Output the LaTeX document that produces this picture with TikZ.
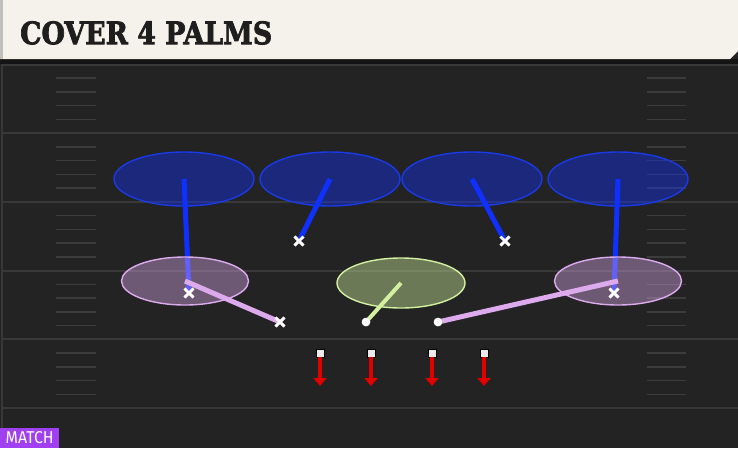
\documentclass[tikz,border=0pt]{standalone}
\usepackage{fontspec}
\usepackage{graphicx}
\usetikzlibrary{arrows.meta,shapes.geometric,shapes.misc}
\newfontfamily\titlefont{DejaVu Serif}[BoldFeatures={FakeBold=2.5}]
\newfontfamily\tagfont{Fira Sans}
\definecolor{field}{HTML}{232323}
\definecolor{yardline}{HTML}{383838}
\definecolor{hashline}{HTML}{3C3C3C}
\definecolor{paper}{HTML}{F5F2EB}
\definecolor{ink}{HTML}{1E1E1E}
\definecolor{deepblue}{HTML}{1030FF}
\definecolor{deepedge}{HTML}{1A3AE6}
\definecolor{curlpurple}{HTML}{DDAAEE}
\definecolor{hookgreen}{HTML}{D2F0A0}
\definecolor{rushred}{HTML}{E00000}
\definecolor{matchpurple}{HTML}{A040F0}

\begin{document}
\begin{tikzpicture}[x=1pt, y=-1pt,
  zone/.style={ellipse, inner sep=0pt, line width=1.4pt},
  deepzone/.style={zone, minimum width=140pt, minimum height=54pt, fill=deepblue, fill opacity=0.4, draw=deepedge},
  curlzone/.style={zone, minimum width=127pt, minimum height=48pt, fill=curlpurple, fill opacity=0.4, draw=curlpurple},
  hookzone/.style={zone, minimum width=128pt, minimum height=50pt, fill=hookgreen, fill opacity=0.42, draw=hookgreen},
  xmark/.style={cross out, draw=white, line width=2.8pt, minimum size=6pt, inner sep=0pt},
  omark/.style={circle, fill=white, minimum size=8.5pt, inner sep=0pt},
  sqmark/.style={rectangle, fill=white!92!black, draw=black, line width=0.6pt, minimum size=8pt, inner sep=0pt},
  drop/.style={line width=5pt},
  rush/.style={-{Triangle[width=13pt,length=8pt]}, rushred, line width=4pt},
]
\useasboundingbox (0,0) rectangle (738,448);

% field
\fill[field] (0,0) rectangle (738,448);
\foreach \i in {0,...,5}
  \draw[yardline, line width=2pt] (3,64.5+68.7*\i) -- (738,64.5+68.7*\i);
\foreach \i in {0,...,4}
  \foreach \j in {1,...,4} {
    \draw[hashline, line width=1.5pt] (56,64.5+68.7*\i+13.74*\j) -- (96,64.5+68.7*\i+13.74*\j);
    \draw[hashline, line width=1.5pt] (647,64.5+68.7*\i+13.74*\j) -- (686,64.5+68.7*\i+13.74*\j);
  }
\draw[yardline, line width=2pt] (2,64) -- (2,448);

% header
\fill[black!92] (0,59) rectangle (738,64);
\fill[paper] (0,0) -- (738,0) -- (738,51) -- (730,59) -- (0,59) -- cycle;
\fill[black!25] (0,0) rectangle (3,59);
\node[anchor=north west, inner sep=0pt, text=ink] (title) at (20,21)
  {\resizebox{252pt}{23pt}{\titlefont\bfseries COVER 4 PALMS}};

% deep quarters
\node[deepzone] (cornerL) at (184,179) {};
\node[deepzone] (safL) at (330,179) {};
\node[deepzone] (safR) at (472,179) {};
\node[deepzone] (cornerR) at (618,179) {};

\node[xmark] (xCL) at (189,293) {};
\node[xmark] (xSL) at (299,241) {};
\node[xmark] (xSR) at (505,241) {};
\node[xmark] (xCR) at (614,293) {};

\draw[drop, deepblue] (cornerL.center) -- (xCL.center);
\draw[drop, deepblue] (safL.center) -- (xSL.center);
\draw[drop, deepblue] (safR.center) -- (xSR.center);
\draw[drop, deepblue] (cornerR.center) -- (xCR.center);

% underneath
\node[curlzone] (curlL) at (185,281) {};
\node[curlzone] (curlR) at (618,281) {};
\node[hookzone] (hook) at (401,283) {};

\node[xmark] (xNL) at (280,322) {};
\node[omark] (oM) at (366,322) {};
\node[omark] (oNR) at (438,322) {};

\draw[drop, curlpurple] (curlL.center) -- (xNL.center);
\draw[drop, curlpurple] (curlR.center) -- (oNR.center);
\draw[drop, hookgreen, line width=4pt] (hook.center) -- (oM.center);

% redraw markers on top
\node[xmark] at (xSL) {};
\node[xmark] at (xSR) {};
\node[xmark] at (xCL) {};
\node[xmark] at (xCR) {};
\node[xmark] at (xNL) {};
\node[omark] at (oM) {};
\node[omark] at (oNR) {};

% rushers
\foreach \x [count=\n] in {320,371,432,484} {
  \node[sqmark] (sq\n) at (\x,353) {};
  \coordinate (tip\n) at (\x,386);
  \draw[rush] (sq\n.south) -- (tip\n);
}

% tag
\node[anchor=south west, fill=matchpurple, minimum width=59pt, minimum height=20pt, inner sep=0pt, text=white] (tag) at (0,448)
  {\resizebox{48pt}{12pt}{\tagfont MATCH}};

\end{tikzpicture}
\end{document}
